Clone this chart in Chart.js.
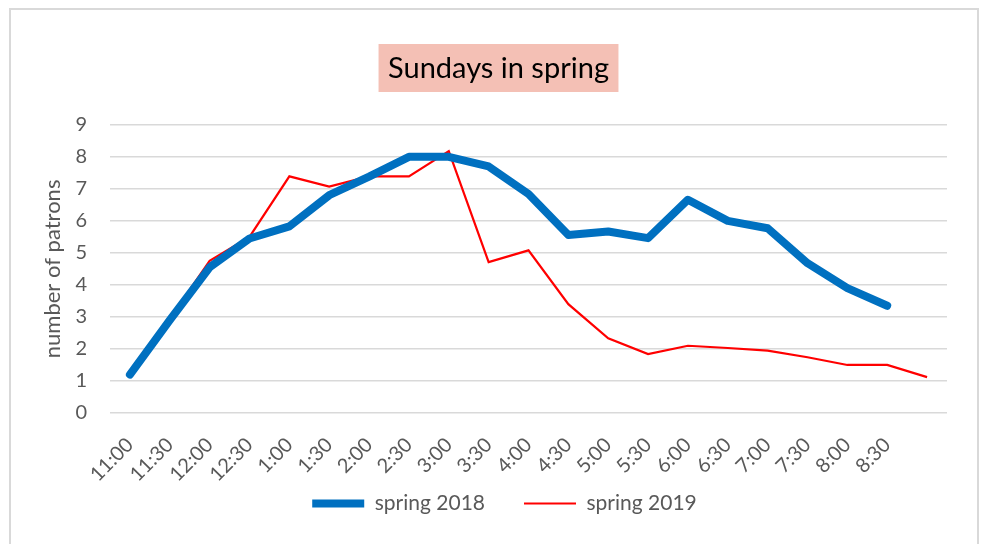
<!DOCTYPE html>
<html>
<head>
<meta charset="utf-8">
<script src="https://cdn.jsdelivr.net/npm/chart.js@4"></script>
<style>
  html, body { margin: 0; padding: 0; background: #fff; overflow: hidden; }
  #frame { position: absolute; left: 9px; top: 8px; width: 966px; height: 560px; border: 2px solid #d9d9d9; }
  #wrap { position: absolute; left: 0; top: 0; width: 983px; height: 544px; }
</style>
</head>
<body>
<div id="frame"></div>
<div id="wrap"><canvas id="chart"></canvas></div>
<script>
const timeLabels = ['11:00', '11:30', '12:00', '12:30', '1:00', '1:30', '2:00', '2:30', '3:00', '3:30',
    '4:00', '4:30', '5:00', '5:30', '6:00', '6:30', '7:00', '7:30', '8:00', '8:30', ''];
const spring2018 = [1.2, 2.9, 4.55, 5.45, 5.83, 6.8, 7.38, 8.0, 8.0, 7.7,
    6.84, 5.56, 5.67, 5.46, 6.66, 6.0, 5.77, 4.68, 3.9, 3.35, null];
const spring2019 = [1.17, 2.95, 4.75, 5.5, 7.39, 7.07, 7.39, 7.39, 8.18, 4.71,
    5.08, 3.4, 2.33, 1.84, 2.1, 2.03, 1.95, 1.74, 1.5, 1.5, 1.12];
const yTicks = [0, 1, 2, 3, 4, 5, 6, 7, 8, 9];

const textGrey = '#595959';
const fontFamily = 'Lato, "Noto Sans", sans-serif';

// pink box behind the title, and nudge title/legend to where the original sits
const titleBox = {
    id: 'titleBox',
    afterLayout(chart) {
        chart.titleBlock.left += 25;
        chart.titleBlock.right += 25;
        chart.legend.left += 31;
        chart.legend.right += 31;
        chart.legend.top -= 29;
        chart.legend.bottom -= 29;
    },
    beforeDraw(chart) {
        const ctx = chart.ctx;
        const t = chart.options.plugins.title;
        ctx.save();
        ctx.font = t.font.size + 'px ' + fontFamily;
        const w = ctx.measureText(t.text).width + 19;
        const cx = (chart.titleBlock.left + chart.titleBlock.right) / 2;
        ctx.fillStyle = '#f4c0b5';
        ctx.fillRect(cx - w / 2, 44, w, 48);
        ctx.restore();
    }
};

new Chart(document.getElementById('chart').getContext('2d'), {
    type: 'line',
    data: {
        labels: timeLabels,
        datasets: [{
            label: 'spring 2018',
            data: spring2018,
            borderColor: '#0070c0',
            backgroundColor: '#0070c0',
            borderWidth: 8,
            borderCapStyle: 'round',
            borderJoinStyle: 'round',
            pointRadius: 0,
            tension: 0
        }, {
            label: 'spring 2019',
            data: spring2019,
            borderColor: '#ff0000',
            backgroundColor: '#ff0000',
            borderWidth: 2.2,
            pointRadius: 0,
            tension: 0
        }]
    },
    options: {
        responsive: true,
        maintainAspectRatio: false,
        animation: false,
        layout: { padding: { left: 0, right: 36, top: 0, bottom: 0 } },
        scales: {
            x: {
                offset: true,
                grid: { display: false },
                border: { display: false },
                ticks: {
                    color: textGrey,
                    font: { family: fontFamily, size: 20 },
                    maxRotation: 45,
                    minRotation: 45,
                    autoSkip: false,
                    padding: 12
                },
                afterFit(scale) { scale.height = 70; }
            },
            y: {
                min: 0,
                max: 9,
                afterBuildTicks(scale) { scale.ticks = yTicks.map(v => ({ value: v })); },
                grid: { color: '#d9d9d9', lineWidth: 1.5, drawTicks: false },
                border: { display: false },
                ticks: {
                    color: textGrey,
                    font: { family: fontFamily, size: 20 },
                    padding: 23
                },
                title: {
                    display: true,
                    text: 'number of patrons',
                    color: textGrey,
                    font: { family: fontFamily, size: 22 },
                    padding: { top: 40, bottom: 0 }
                },
                afterFit(scale) { scale.width = 110; }
            }
        },
        plugins: {
            title: {
                display: true,
                text: 'Sundays in spring',
                color: '#000',
                font: { family: fontFamily, size: 29, weight: 'normal' },
                padding: { top: 51, bottom: 39 }
            },
            legend: {
                position: 'bottom',
                maxHeight: 61,
                labels: {
                    color: textGrey,
                    font: { family: fontFamily, size: 21 },
                    usePointStyle: true,
                    pointStyle: 'line',
                    pointStyleWidth: 52,
                    padding: 39
                }
            },
            tooltip: { enabled: false }
        }
    },
    plugins: [titleBox]
});
</script>
</body>
</html>
